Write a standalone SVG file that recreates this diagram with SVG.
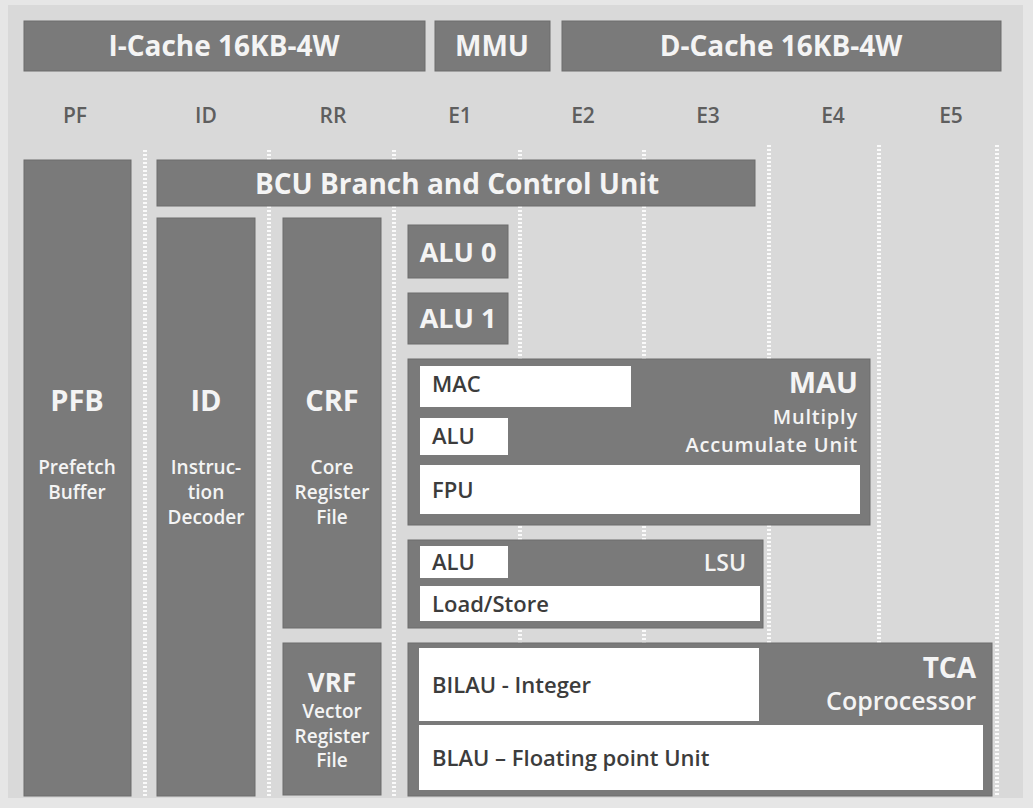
<svg xmlns="http://www.w3.org/2000/svg" width="1033" height="808" viewBox="0 0 1033 808">
  <style>
    text { font-family: "Open Sans", "Liberation Sans", sans-serif; font-weight: 600; }
    .box { fill: #7a7a7a; stroke: #6c6c6c; stroke-width: 1; }
    .wbox { fill: #ffffff; }
    .lt { fill: #f4f4f4; }
    .dk { fill: #3c3c3c; }
    .b { font-weight: 700; }
    .stage { fill: #5e5e5e; font-size: 21px; text-anchor: middle; }
    .c { text-anchor: middle; }
    .r { text-anchor: end; }
    .sep { stroke: #ffffff; stroke-width: 4; stroke-dasharray: 2 2; opacity: 0.85; fill: none; }
  </style>
  <rect x="0" y="0" width="1033" height="808" fill="#e6e6e6"/>
  <rect x="8" y="5" width="1015" height="793" fill="#d9d9d9"/>

  <g id="separators">
    <line class="sep" x1="145" y1="150" x2="145" y2="797"/>
    <line class="sep" x1="269" y1="150" x2="269" y2="797"/>
    <line class="sep" x1="394" y1="150" x2="394" y2="797"/>
    <line class="sep" x1="520" y1="150" x2="520" y2="797"/>
    <line class="sep" x1="644" y1="150" x2="644" y2="797"/>
    <line class="sep" x1="769" y1="145" x2="769" y2="797"/>
    <line class="sep" x1="879" y1="145" x2="879" y2="797"/>
    <line class="sep" x1="997" y1="145" x2="997" y2="797"/>
  </g>

  <g id="icache">
    <rect class="box" x="24" y="21" width="401" height="50"/>
    <text class="lt c b" x="224" y="56" font-size="28">I-Cache 16KB-4W</text>
  </g>
  <g id="mmu">
    <rect class="box" x="435" y="21" width="115" height="50"/>
    <text class="lt c b" x="492" y="56" font-size="28">MMU</text>
  </g>
  <g id="dcache">
    <rect class="box" x="562" y="21" width="439" height="50"/>
    <text class="lt c b" x="781" y="56" font-size="28">D-Cache 16KB-4W</text>
  </g>

  <g id="stages">
    <text class="stage" x="75" y="123">PF</text>
    <text class="stage" x="206" y="123">ID</text>
    <text class="stage" x="333" y="123">RR</text>
    <text class="stage" x="460" y="123">E1</text>
    <text class="stage" x="583" y="123">E2</text>
    <text class="stage" x="708" y="123">E3</text>
    <text class="stage" x="833" y="123">E4</text>
    <text class="stage" x="951" y="123">E5</text>
  </g>

  <g id="pfb">
    <rect class="box" x="24" y="160" width="107" height="636"/>
    <text class="lt c b" x="77" y="411" font-size="29">PFB</text>
    <text class="lt c" x="77" y="474" font-size="19">Prefetch</text>
    <text class="lt c" x="77" y="499" font-size="19">Buffer</text>
  </g>

  <g id="bcu">
    <rect class="box" x="157" y="160" width="598" height="46"/>
    <text class="lt c b" x="457" y="194" font-size="28">BCU Branch and Control Unit</text>
  </g>

  <g id="id">
    <rect class="box" x="157" y="218" width="98" height="578"/>
    <text class="lt c b" x="206" y="411" font-size="29">ID</text>
    <text class="lt c" x="206" y="474" font-size="19">Instruc-</text>
    <text class="lt c" x="206" y="499" font-size="19">tion</text>
    <text class="lt c" x="206" y="524" font-size="19">Decoder</text>
  </g>

  <g id="crf">
    <rect class="box" x="283" y="218" width="98" height="410"/>
    <text class="lt c b" x="332" y="411" font-size="29">CRF</text>
    <text class="lt c" x="332" y="474" font-size="19">Core</text>
    <text class="lt c" x="332" y="499" font-size="19">Register</text>
    <text class="lt c" x="332" y="524" font-size="19">File</text>
  </g>

  <g id="vrf">
    <rect class="box" x="283" y="643" width="98" height="152"/>
    <text class="lt c b" x="332" y="692" font-size="26">VRF</text>
    <text class="lt c" x="332" y="718" font-size="19">Vector</text>
    <text class="lt c" x="332" y="743" font-size="19">Register</text>
    <text class="lt c" x="332" y="767" font-size="19">File</text>
  </g>

  <g id="alu0">
    <rect class="box" x="408" y="225" width="100" height="53"/>
    <text class="lt c b" x="458" y="262" font-size="27">ALU 0</text>
  </g>
  <g id="alu1">
    <rect class="box" x="408" y="293" width="100" height="51"/>
    <text class="lt c b" x="458" y="328" font-size="27">ALU 1</text>
  </g>

  <g id="mau">
    <rect class="box" x="408" y="359" width="462" height="166"/>
    <rect class="wbox" x="420" y="366" width="211" height="41"/>
    <text class="dk" x="432" y="392" font-size="22">MAC</text>
    <rect class="wbox" x="420" y="418" width="88" height="37"/>
    <text class="dk" x="432" y="444" font-size="22">ALU</text>
    <rect class="wbox" x="420" y="465" width="440" height="49"/>
    <text class="dk" x="432" y="498" font-size="22">FPU</text>
    <text class="lt r b" x="858" y="393" font-size="29">MAU</text>
    <text class="lt r" x="858" y="424" font-size="20" letter-spacing="0.8">Multiply</text>
    <text class="lt r" x="858" y="452" font-size="20" letter-spacing="0.8">Accumulate Unit</text>
  </g>

  <g id="lsu">
    <rect class="box" x="408" y="540" width="355" height="88"/>
    <rect class="wbox" x="420" y="546" width="88" height="32"/>
    <text class="dk" x="432" y="570" font-size="22">ALU</text>
    <rect class="wbox" x="420" y="586" width="340" height="35"/>
    <text class="dk" x="432" y="612" font-size="22">Load/Store</text>
    <text class="lt r" x="746" y="571" font-size="23">LSU</text>
  </g>

  <g id="tca">
    <rect class="box" x="408" y="643" width="584" height="153"/>
    <rect class="wbox" x="419" y="648" width="340" height="73"/>
    <text class="dk" x="432" y="693" font-size="22">BILAU - Integer</text>
    <rect class="wbox" x="419" y="725" width="564" height="65"/>
    <text class="dk" x="432" y="766" font-size="22">BLAU – Floating point Unit</text>
    <text class="lt r b" x="976" y="678" font-size="28">TCA</text>
    <text class="lt r" x="976" y="710" font-size="25">Coprocessor</text>
  </g>
</svg>
